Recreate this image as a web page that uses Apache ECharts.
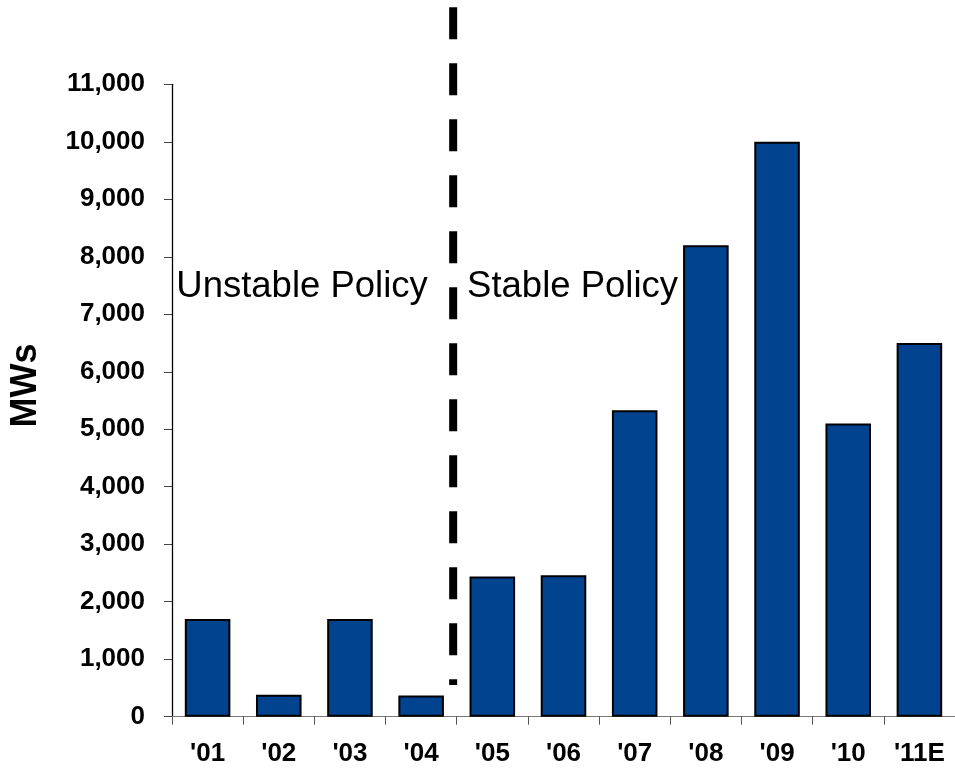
<!DOCTYPE html>
<html>
<head>
<meta charset="utf-8">
<script src="https://cdn.jsdelivr.net/npm/echarts@6/dist/echarts.min.js"></script>
<style>
html,body{margin:0;padding:0;background:#fff;}
#chart{width:955px;height:770px;}
</style>
</head>
<body>
<div id="chart"></div>
<script>
var categories = ["'01", "'02", "'03", "'04", "'05", "'06", "'07", "'08", "'09", "'10", "'11E"];
var mwValues = [1700, 380, 1700, 370, 2440, 2460, 5330, 8200, 10000, 5100, 6500];
var yTicks = [0, 1000, 2000, 3000, 4000, 5000, 6000, 7000, 8000, 9000, 10000, 11000];
var policyLabels = ["Unstable Policy", "Stable Policy"];

var FONT = "'Liberation Sans', Arial, Helvetica, sans-serif";
var chart = echarts.init(document.getElementById('chart'));

var option = {
  animation: false,
  backgroundColor: '#ffffff',
  grid: { left: 169.3, top: 84.3, width: 793.1, height: 632.4, containLabel: false },
  xAxis: {
    type: 'category',
    data: categories,
    axisLine: { lineStyle: { color: '#777777', width: 1 } },
    axisTick: { show: true, alignWithLabel: false, length: 8, lineStyle: { color: '#555555', width: 1 } },
    axisLabel: { color: '#000', fontFamily: FONT, fontWeight: 'bold', fontSize: 26, margin: 24, interval: 0 },
    splitLine: { show: false }
  },
  yAxis: {
    type: 'value',
    min: yTicks[0],
    max: yTicks[yTicks.length - 1],
    interval: yTicks[1] - yTicks[0],
    name: 'MWs',
    nameLocation: 'middle',
    nameRotate: 90,
    nameGap: 128,
    nameTextStyle: { color: '#000', fontFamily: FONT, fontWeight: 'bold', fontSize: 36, padding: [0, 0, 0, 30] },
    axisLine: { show: true, lineStyle: { color: '#000000', width: 1.3 } },
    axisTick: { show: true, length: 8, lineStyle: { color: '#444444', width: 1 } },
    axisLabel: {
      color: '#000', fontFamily: FONT, fontWeight: 'bold', fontSize: 26, margin: 27,
      formatter: function (v) { return v.toLocaleString('en-US'); }
    },
    splitLine: { show: false }
  },
  series: [{
    type: 'bar',
    data: mwValues,
    barCategoryGap: '36%',
    itemStyle: { color: '#02438f', borderColor: '#000000', borderWidth: 2 }
  }]
};
chart.setOption(option);

function addAnnotations() {
  var p04 = chart.convertToPixel({ xAxisIndex: 0 }, categories[3]);
  var p05 = chart.convertToPixel({ xAxisIndex: 0 }, categories[4]);
  var p01 = chart.convertToPixel({ xAxisIndex: 0 }, categories[0]);
  var step = p05 - p04;
  var lineX = p04 + step * 0.45;
  var yBottom = chart.convertToPixel({ yAxisIndex: 0 }, 550);
  var yText = chart.convertToPixel({ yAxisIndex: 0 }, 7800);
  chart.setOption({
    graphic: [
      {
        type: 'line',
        shape: { x1: lineX, y1: 7.3, x2: lineX, y2: yBottom },
        style: { stroke: '#000000', lineWidth: 8, lineDash: [32, 24] },
        z: 10
      },
      {
        type: 'text',
        x: p01 - step * 0.44,
        y: yText,
        style: { text: policyLabels[0], fill: '#000', font: '36.5px ' + FONT, textAlign: 'left', textVerticalAlign: 'top' },
        z: 10
      },
      {
        type: 'text',
        x: p05 - step * 0.355,
        y: yText,
        style: { text: policyLabels[1], fill: '#000', font: '36.5px ' + FONT, textAlign: 'left', textVerticalAlign: 'top' },
        z: 10
      }
    ]
  });
}
addAnnotations();
</script>
</body>
</html>
